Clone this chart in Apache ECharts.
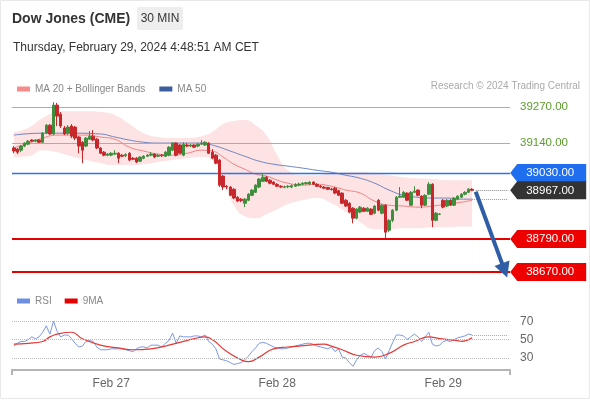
<!DOCTYPE html>
<html>
<head>
<meta charset="utf-8">
<script src="https://cdn.jsdelivr.net/npm/echarts@6/dist/echarts.min.js"></script>
<style>
  html, body { margin: 0; padding: 0; background: #fff; }
  #chart { width: 590px; height: 400px; }
</style>
</head>
<body>
<div id="chart"></div>
<script>
// Dow Jones (CME) futures, 30 min bars, Feb 26 - Feb 29 2024
var barCount = 138; // slots on the time axis, the last ones stay empty
var dayLabels = ['Feb 27', 'Feb 28', 'Feb 29'];
var dayIndex = [27, 73, 119];

var opens = [
  39121, 39117, 39113, 39128, 39135, 39150, 39146, 39150, 39142, 39175,
  39204, 39172, 39277, 39244, 39194, 39175, 39201, 39197, 39161, 39142,
  39128, 39153, 39164, 39153, 39121, 39106, 39095, 39095, 39099, 39102,
  39095, 39093, 39102, 39084, 39084, 39073, 39084, 39091, 39095, 39099,
  39091, 39095, 39091, 39095, 39113, 39139, 39132, 39095, 39132, 39128,
  39132, 39128, 39135, 39132, 39139, 39106, 39095, 39077, 39019, 38982,
  38979, 38971, 38942, 38935, 38920, 38931, 38949, 38960, 38979, 39000,
  39015, 39004, 38997, 38989, 38982, 38978, 38980, 38979, 38982, 38986,
  38989, 38991, 38990, 38997, 38989, 38983, 38979, 38977, 38972, 38975,
  38966, 38957, 38931, 38920, 38902, 38866, 38888, 38902, 38891, 38899,
  38884, 38931, 38884, 38913, 38822, 38858, 38895, 38942, 38942, 38957,
  38913, 38960, 38968, 38946, 38913, 38953, 38989, 38858, 38880, 38931,
  38910, 38931, 38913, 38935, 38942, 38953, 38960, 38971
];
var closes = [
  39110, 39106, 39128, 39139, 39146, 39146, 39150, 39142, 39175, 39204,
  39172, 39277, 39237, 39201, 39172, 39197, 39164, 39157, 39128, 39113,
  39157, 39164, 39150, 39121, 39102, 39095, 39099, 39102, 39102, 39084,
  39091, 39097, 39077, 39080, 39070, 39088, 39091, 39095, 39099, 39088,
  39095, 39093, 39106, 39124, 39139, 39095, 39102, 39135, 39128, 39132,
  39124, 39135, 39139, 39142, 39102, 39084, 39066, 38986, 38979, 38979,
  38949, 38939, 38928, 38930, 38935, 38953, 38968, 38986, 39008, 39015,
  39000, 38993, 38989, 38982, 38979, 38980, 38982, 38984, 38988, 38990,
  38993, 38995, 38997, 38989, 38982, 38979, 38975, 38971, 38970, 38957,
  38949, 38920, 38910, 38888, 38866, 38899, 38906, 38891, 38902, 38880,
  38910, 38895, 38913, 38815, 38858, 38895, 38942, 38946, 38960, 38931,
  38960, 38964, 38949, 38913, 38949, 38989, 38858, 38884, 38881, 38906,
  38931, 38913, 38939, 38946, 38953, 38960, 38971, 38967
];
var lows = [
  39102, 39099, 39106, 39124, 39132, 39142, 39142, 39139, 39139, 39172,
  39168, 39168, 39201, 39194, 39168, 39168, 39157, 39150, 39102, 39066,
  39124, 39150, 39146, 39117, 39099, 39091, 39091, 39091, 39095, 39066,
  39088, 39088, 39073, 39077, 39066, 39070, 39080, 39088, 39091, 39084,
  39088, 39088, 39088, 39091, 39110, 39091, 39099, 39091, 39124, 39124,
  39121, 39124, 39132, 39128, 39099, 39080, 39062, 38979, 38968, 38971,
  38946, 38935, 38924, 38924, 38906, 38928, 38946, 38957, 38975, 38997,
  38997, 38989, 38986, 38979, 38975, 38975, 38975, 38975, 38979, 38982,
  38986, 38988, 38986, 38986, 38979, 38975, 38971, 38968, 38966, 38953,
  38946, 38917, 38906, 38884, 38847, 38862, 38884, 38888, 38888, 38877,
  38880, 38891, 38880, 38793, 38815, 38851, 38891, 38939, 38939, 38928,
  38910, 38957, 38946, 38902, 38910, 38949, 38833, 38855, 38877, 38902,
  38906, 38910, 38910, 38931, 38939, 38949, 38957, 38964
];
var highs = [
  39128, 39121, 39132, 39142, 39150, 39153, 39153, 39153, 39179, 39208,
  39208, 39288, 39285, 39252, 39201, 39204, 39208, 39201, 39164, 39146,
  39161, 39183, 39186, 39157, 39124, 39110, 39102, 39106, 39113, 39106,
  39099, 39102, 39106, 39088, 39088, 39091, 39095, 39099, 39106, 39102,
  39099, 39099, 39110, 39128, 39142, 39142, 39135, 39142, 39139, 39135,
  39135, 39139, 39150, 39146, 39142, 39117, 39099, 39080, 39022, 38986,
  38982, 38975, 38946, 38939, 38939, 38957, 38971, 38989, 39011, 39030,
  39019, 39008, 39000, 38993, 38986, 38984, 38986, 38989, 38993, 38995,
  38997, 38998, 39000, 39000, 38993, 38986, 38982, 38980, 38976, 38979,
  38969, 38960, 38935, 38924, 38906, 38902, 38910, 38906, 38906, 38902,
  38913, 38935, 38917, 38917, 38862, 38899, 38946, 38979, 38964, 38960,
  38964, 38982, 38971, 38949, 38953, 38997, 38993, 38888, 38884, 38935,
  38935, 38935, 38942, 38949, 38957, 38964, 38975, 38975
];

// indicator lines at a few bars: [bar, value]
var ma20 = [[0,39121],[4,39139],[8,39157],[12,39168],[16,39168],[20,39168],[24,39161],[28,39153],[32,39124],[36,39110],[40,39099],[44,39095],[48,39102],[52,39113],[55,39110],[58,39088],[61,39062],[64,39044],[67,39026],[70,39019],[73,39004],[76,38993],[80,38986],[84,38989],[88,38982],[92,38968],[96,38957],[100,38928],[104,38913],[108,38910],[112,38906],[116,38910],[120,38917],[124,38924],[127,38931]];
var ma50 = [[0,39168],[8,39175],[16,39175],[24,39172],[28,39161],[32,39150],[36,39142],[40,39139],[44,39139],[48,39139],[52,39139],[56,39128],[60,39110],[64,39091],[68,39073],[72,39062],[76,39055],[80,39048],[84,39040],[88,39033],[92,39022],[96,39011],[100,38993],[104,38968],[108,38949],[112,38942],[116,38939],[120,38939],[124,38935],[127,38935]];
var bandUpper = [[0,39179],[4,39194],[8,39230],[12,39252],[16,39255],[20,39255],[24,39252],[28,39241],[32,39208],[36,39175],[40,39161],[44,39157],[48,39157],[52,39164],[55,39179],[58,39208],[61,39219],[64,39223],[67,39204],[70,39168],[73,39095],[76,39040],[80,39022],[84,39022],[88,39030],[92,39033],[96,39033],[100,39030],[104,39022],[108,39015],[112,39011],[116,39008],[120,39004],[124,39004],[127,39004]];
var bandLower = [[0,39088],[4,39091],[8,39113],[12,39106],[16,39091],[20,39077],[24,39066],[28,39059],[32,39059],[36,39062],[40,39070],[44,39077],[48,39084],[52,39088],[55,39077],[58,39004],[61,38913],[64,38873],[67,38866],[70,38880],[73,38898],[76,38917],[80,38931],[84,38939],[88,38920],[92,38888],[96,38851],[100,38826],[104,38826],[108,38829],[112,38829],[116,38833],[120,38833],[124,38836],[127,38836]];

var rsi = [
  43, 46, 48, 48, 50, 53, 51, 53, 58, 65,
  56, 70, 59, 53, 55, 55, 51, 46, 42, 43,
  48, 49, 48, 42, 39, 39, 39, 40, 40, 40,
  40, 39, 38, 37, 40, 42, 42, 41, 44, 44,
  44, 42, 46, 49, 57, 46, 54, 53, 53, 53,
  54, 54, 53, 55, 48, 45, 40, 29, 28, 27,
  25, 23, 24, 25, 28, 32, 37, 41, 46, 47,
  46, 44, 42, 41, 40, 40, 41, 42, 43, 44,
  45, 46, 46, 45, 43, 42, 41, 40, 42, 37,
  40, 31, 30, 25, 21, 28, 33, 35, 33, 31,
  38, 41, 37, 29, 38, 47, 55, 55, 54, 50,
  53, 56, 53, 48, 53, 58, 45, 43, 44, 48,
  49, 48, 50, 52, 53, 54, 56, 55
];
var rsiMa9 = [[0,45],[4,46],[8,48],[10,53],[12,56],[16,58],[19,51],[24,44],[29,41],[33,39],[38,40],[42,43],[46,47],[50,51],[53,53],[55,50],[59,37],[63,28],[65,26],[68,31],[72,40],[76,42],[79,43],[86,45],[88,43],[91,39],[95,33],[100,31],[104,35],[108,44],[111,48],[115,53],[118,51],[123,49],[124,48],[127,52]];
var rsiTicks = [70, 50, 30];

var resistances = [39270, 39140];
var pivot = 39030;
var lastPrice = 38967;
var supports = [38790, 38670];
var arrowEndBar = 136;

var FONT = '"Liberation Sans", Arial, sans-serif';

var categories = [];
for (var i = 0; i < barCount; i++) {
  var k = dayIndex.indexOf(i);
  categories.push(k >= 0 ? dayLabels[k] : '');
}
var candles = opens.map(function (o, i) { return [o, closes[i], lows[i], highs[i]]; });
var lastBar = closes.length - 1;

function levelLabel(v, color) {
  return {
    coord: [barCount - 1, v],
    itemStyle: { color: color },
    label: { formatter: v.toFixed(2) }
  };
}

var chart = echarts.init(document.getElementById('chart'));
chart.setOption({
  animation: false,
  backgroundColor: '#fff',
  textStyle: { fontFamily: FONT },
  legend: [{
    data: [
      { name: 'MA 20 + Bollinger Bands', itemStyle: { color: '#f78a8a' } },
      { name: 'MA 50', itemStyle: { color: '#3b5c9e' } }
    ],
    left: 12, top: 79, icon: 'rect', itemWidth: 13, itemHeight: 5, itemGap: 14,
    selectedMode: false,
    textStyle: { color: '#888', fontSize: 10, fontFamily: FONT }
  }, {
    data: [
      { name: 'RSI', itemStyle: { color: '#6d8ee3' } },
      { name: '9MA', itemStyle: { color: '#e60000' } }
    ],
    left: 12, top: 291, icon: 'rect', itemWidth: 13, itemHeight: 5, itemGap: 13,
    selectedMode: false,
    textStyle: { color: '#888', fontSize: 10, fontFamily: FONT }
  }],
  grid: [
    { left: 12, right: 80, top: 90, bottom: 120 },
    { left: 12, right: 80, top: 312, bottom: 30 }
  ],
  xAxis: [{
    gridIndex: 0, type: 'category', data: categories, boundaryGap: true, show: false
  }, {
    gridIndex: 1, type: 'category', data: categories, boundaryGap: true,
    axisLine: { lineStyle: { color: '#b5b5b5', width: 2 } },
    axisTick: { show: true, interval: function (i) { return i === 0; }, length: 5, lineStyle: { color: '#b5b5b5', width: 2 } },
    axisLabel: { interval: 0, color: '#666', fontSize: 12, margin: 8, fontFamily: FONT }
  }],
  yAxis: [
    { gridIndex: 0, type: 'value', min: 38641, max: 39332, show: false, splitLine: { show: false } },
    { gridIndex: 1, type: 'value', min: 17, max: 80, show: false, splitLine: { show: false } }
  ],
  series: [{
    name: 'bandUpper', type: 'line', data: bandUpper, smooth: 0.5, symbol: 'none', silent: true, z: 1,
    lineStyle: { width: 0 }, areaStyle: { color: '#fde3e3', opacity: 1, origin: 'start' }
  }, {
    name: 'bandLower', type: 'line', data: bandLower, smooth: 0.5, symbol: 'none', silent: true, z: 1,
    lineStyle: { width: 0 }, areaStyle: { color: '#ffffff', opacity: 1, origin: 'start' }
  }, {
    name: 'MA 20 + Bollinger Bands', type: 'line', data: ma20, smooth: 0.5, symbol: 'none', z: 3,
    lineStyle: { color: '#f08282', width: 1 }, itemStyle: { color: '#f78a8a' }
  }, {
    name: 'MA 50', type: 'line', data: ma50, smooth: 0.5, symbol: 'none', z: 3,
    lineStyle: { color: '#6c82c2', width: 1 }, itemStyle: { color: '#3b5c9e' }
  }, {
    name: 'price', type: 'candlestick', data: candles, barWidth: 3, z: 5,
    itemStyle: {
      color: '#3e8e3e', color0: '#c6282b',
      borderColor: '#3e8e3e', borderColor0: '#c6282b', borderWidth: 1
    },
    markLine: {
      silent: true, symbol: ['none', 'none'],
      label: { show: false },
      data: [
        { yAxis: resistances[0], lineStyle: { color: '#93c56f', width: 1.2, type: 'solid' },
          label: { show: true, position: 'end', distance: 10, formatter: resistances[0].toFixed(2), color: '#5c9c2c', fontSize: 11.5, fontFamily: FONT } },
        { yAxis: resistances[1], lineStyle: { color: '#93c56f', width: 1.2, type: 'solid' },
          label: { show: true, position: 'end', distance: 10, formatter: resistances[1].toFixed(2), color: '#5c9c2c', fontSize: 11.5, fontFamily: FONT } },
        { yAxis: pivot, lineStyle: { color: '#2f72ea', width: 1.3, type: 'solid' } },
        { yAxis: supports[0], lineStyle: { color: '#e60000', width: 2, type: 'solid' } },
        { yAxis: supports[1], lineStyle: { color: '#e60000', width: 2, type: 'solid' } },
        [{ coord: [lastBar + 1, lastPrice], lineStyle: { color: '#888', width: 1, type: 'dotted' } },
         { coord: [barCount - 1, lastPrice] }],
        [{ coord: [lastBar, ma50[ma50.length - 1][1]], lineStyle: { color: '#999', width: 1, type: 'dotted' } },
         { coord: [barCount - 1, ma50[ma50.length - 1][1]] }],
        [{ coord: [lastBar + 1, lastPrice - 5], symbol: 'none', lineStyle: { color: '#2f5ea6', width: 4, type: 'solid' } },
         { coord: [arrowEndBar, supports[1] + 6], symbol: 'triangle', symbolSize: [16, 15] }]
      ]
    },
    markPoint: {
      silent: true,
      symbol: 'path://M0,9 L7,0 L76,0 L76,18 L7,18 Z',
      symbolSize: [76, 18],
      symbolKeepAspect: false,
      symbolOffset: [40, 0],
      label: { show: true, position: 'inside', color: '#fff', fontSize: 11.5, fontFamily: FONT, offset: [2, 0] },
      data: [
        levelLabel(pivot, '#1f6ef0'),
        levelLabel(lastPrice, '#333333'),
        levelLabel(supports[0], '#ee0000'),
        levelLabel(supports[1], '#ee0000')
      ]
    }
  }, {
    name: 'RSI', type: 'line', xAxisIndex: 1, yAxisIndex: 1, data: rsi, symbol: 'none',
    lineStyle: { color: '#7e98e3', width: 1 }, itemStyle: { color: '#6d8ee3' },
    markLine: {
      silent: true, symbol: ['none', 'none'],
      data: rsiTicks.map(function (t) {
        return { yAxis: t, lineStyle: { color: '#bbb', width: 1, type: 'dotted' },
          label: { show: true, position: 'end', distance: 10, formatter: String(t), color: '#666', fontSize: 12, fontFamily: FONT } };
      }).concat([[
        { coord: [lastBar, rsi[lastBar]], lineStyle: { color: '#8fa6e8', width: 1, type: 'dotted' }, label: { show: false } },
        { coord: [barCount - 1, rsi[lastBar]] }
      ]])
    }
  }, {
    name: '9MA', type: 'line', xAxisIndex: 1, yAxisIndex: 1, data: rsiMa9, smooth: 0.5, symbol: 'none',
    lineStyle: { color: '#e53935', width: 1.2 }, itemStyle: { color: '#e60000' }
  }],
  graphic: [
    { type: 'rect', silent: true, shape: { x: 0.5, y: 0.5, width: 589, height: 398 }, style: { fill: 'none', stroke: '#e8e8e8', lineWidth: 1 } },
    { type: 'text', x: 12, y: 19, style: { text: 'Dow Jones (CME)', font: 'bold 14px ' + FONT, fill: '#333', verticalAlign: 'middle' } },
    { type: 'rect', shape: { x: 137, y: 7, width: 46, height: 23, r: 2 }, style: { fill: '#eeeeee' } },
    { type: 'text', x: 160, y: 19, style: { text: '30 MIN', font: '12px ' + FONT, fill: '#333', align: 'center', verticalAlign: 'middle' } },
    { type: 'text', x: 13, y: 48, style: { text: 'Thursday, February 29, 2024 4:48:51 AM CET', font: '12px ' + FONT, fill: '#333', verticalAlign: 'middle' } },
    { type: 'text', x: 580, y: 86, style: { text: 'Research \u00a9 2024 Trading Central', font: '10px ' + FONT, fill: '#aaa', align: 'right', verticalAlign: 'middle' } }
  ]
});
</script>
</body>
</html>
